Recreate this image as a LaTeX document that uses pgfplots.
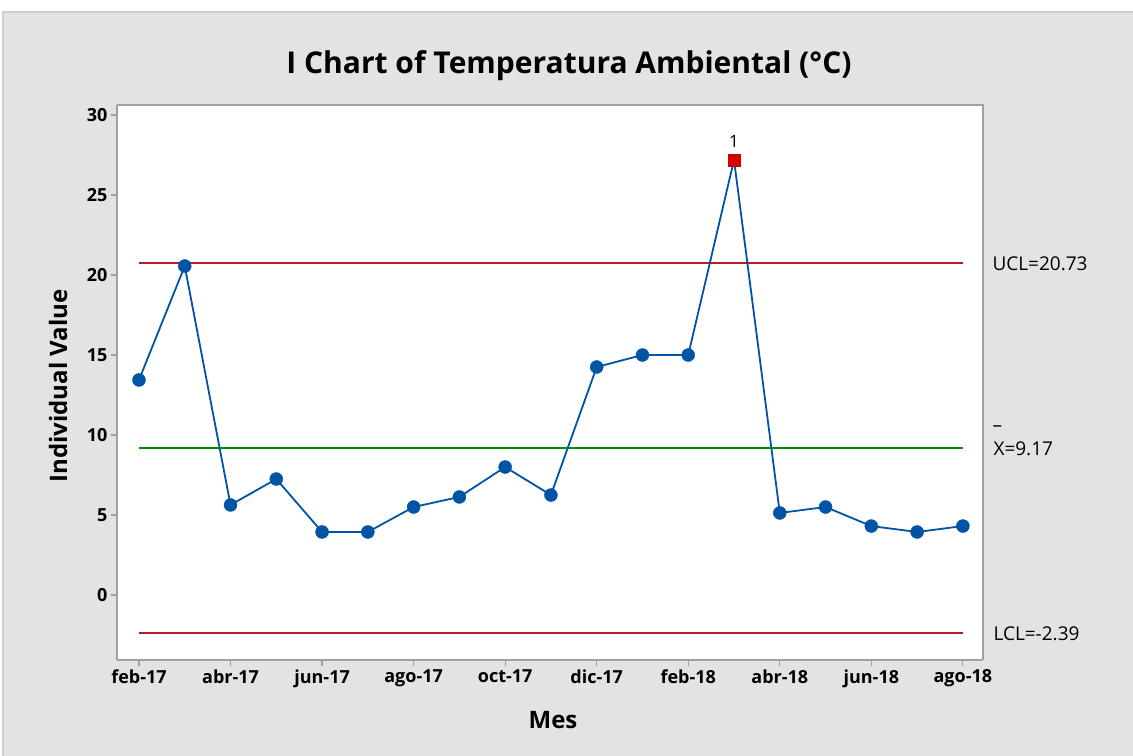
\documentclass[border=0pt]{standalone}
\usepackage{fontspec}
\setmainfont{Open Sans}
\usepackage{pgfplots}
\pgfplotsset{compat=1.18}
\definecolor{bg}{RGB}{227,227,227}
\definecolor{ptblue}{RGB}{0,84,166}
\definecolor{limred}{RGB}{178,34,34}
\definecolor{cgreen}{RGB}{0,140,0}
\definecolor{axgray}{RGB}{160,160,160}
\begin{document}
\begin{tikzpicture}[x=1bp,y=1bp]
\useasboundingbox (0,0) rectangle (1133,756);
\fill[white] (0,0) rectangle (1133,756);
\fill[bg] (3,0) rectangle (1133,744);
\draw[draw={rgb,255:red,205;green,205;blue,205},line width=1.5bp] (3,0) -- (3,744) -- (1133,744);
\node[font=\bfseries\fontsize{30bp}{34bp}\selectfont] at (569,690) {I Chart of Temperatura Ambiental (°C)};
\node[font=\bfseries\fontsize{24bp}{28bp}\selectfont] at (553,36) {Mes};
\node[font=\bfseries\fontsize{24bp}{28bp}\selectfont,rotate=90] at (58,370) {Individual Value};
\begin{axis}[
  at={(117bp,96bp)}, anchor=south west,
  width=866bp, height=555bp, scale only axis,
  xmin=-0.48, xmax=18.44, ymin=-4.06, ymax=30.625,
  axis background/.style={fill=white},
  axis line style={axgray,line width=1.5bp},
  axis x line*=bottom, axis y line*=left,
  tick style={axgray,line width=1.2bp},
  tick align=outside, major tick length=6bp,
  xtick={0,2,4,6,8,10,12,14,16,18},
  xticklabels={feb-17,abr-17,jun-17,ago-17,oct-17,dic-17,feb-18,abr-18,jun-18,ago-18},
  ytick={0,5,10,15,20,25,30},
  /pgf/number format/assume math mode=true,
  ticklabel style={font=\bfseries\fontsize{18bp}{21bp}\selectfont},
  clip=false,
]
\draw[axgray,line width=1.5bp] (rel axis cs:0,1) -- (rel axis cs:1,1) -- (rel axis cs:1,0);
\addplot[limred,line width=2bp,mark=none] coordinates {(0,20.73) (18,20.73)};
\addplot[limred,line width=2bp,mark=none] coordinates {(0,-2.39) (18,-2.39)};
\addplot[cgreen,line width=2bp,mark=none] coordinates {(0,9.17) (18,9.17)};
\addplot[ptblue,line width=1.8bp,mark=none] coordinates {
(0,13.44) (1,20.56) (2,5.63) (3,7.25) (4,3.94) (5,3.94) (6,5.5) (7,6.13) (8,8.0) (9,6.25)
(10,14.25) (11,15.0) (12,15.0) (13,27.19) (14,5.13) (15,5.5) (16,4.31) (17,3.94) (18,4.31)};
\addplot[only marks,mark=*,mark size=6.5bp,mark options={fill=ptblue,draw=ptblue}] coordinates {
(0,13.44) (1,20.56) (2,5.63) (3,7.25) (4,3.94) (5,3.94) (6,5.5) (7,6.13) (8,8.0) (9,6.25)
(10,14.25) (11,15.0) (12,15.0) (14,5.13) (15,5.5) (16,4.31) (17,3.94) (18,4.31)};
\addplot[only marks,mark=square*,mark size=6bp,mark options={fill={rgb,255:red,210;green,0;blue,0},draw={rgb,255:red,210;green,0;blue,0}},
  nodes near coords={1},nodes near coords style={font=\fontsize{17bp}{19bp}\selectfont,black,yshift=9bp}] coordinates {(13,27.19)};
\node[anchor=west,font=\fontsize{19bp}{22bp}\selectfont] at (axis cs:18.44,20.73) [xshift=6bp] {UCL=20.73};
\node[anchor=west,font=\fontsize{19bp}{22bp}\selectfont] at (axis cs:18.44,9.17) [xshift=7bp] {X=9.17};
\node[anchor=west,font=\fontsize{19bp}{22bp}\selectfont] at (axis cs:18.44,9.17) [xshift=6bp,yshift=20bp] {–};
\node[anchor=west,font=\fontsize{19bp}{22bp}\selectfont] at (axis cs:18.44,-2.39) [xshift=7bp] {LCL=-2.39};
\end{axis}
\end{tikzpicture}
\end{document}
